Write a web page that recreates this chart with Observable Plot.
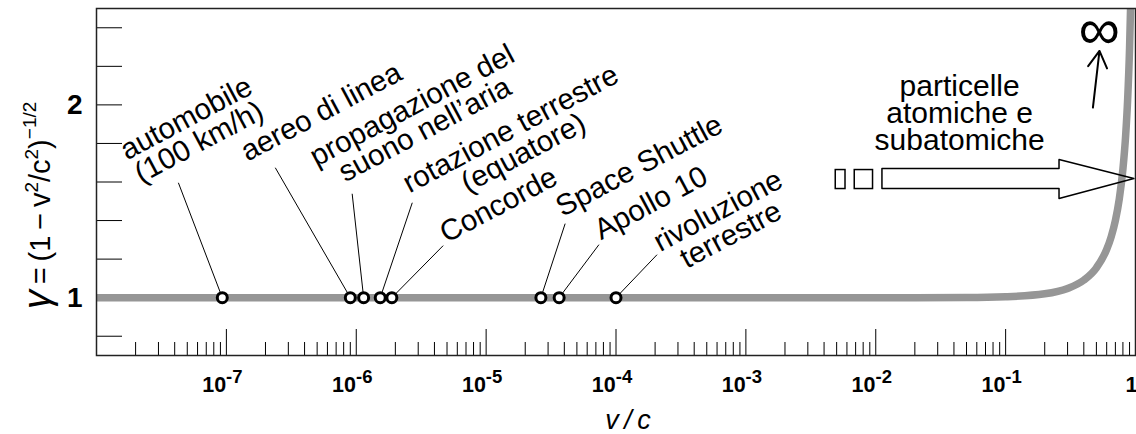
<!DOCTYPE html>
<html><head><meta charset="utf-8">
<script src="https://cdn.jsdelivr.net/npm/d3@7"></script>
<script src="https://cdn.jsdelivr.net/npm/@observablehq/plot@0.6"></script>
<style>body{margin:0;background:#fff} svg{display:block}</style>
</head><body><div id="chart"></div>
<script>
// ---- data ----
const labels = ["automobile\n(100 km/h)", "aereo di linea", "propagazione del\nsuono nell’aria", "rotazione terrestre\n(equatore)", "Concorde", "Space Shuttle", "Apollo 10", "rivoluzione\nterrestre"];
const speeds = [9.3e-8, 9.0e-7, 1.14e-6, 1.53e-6, 1.88e-6, 2.64e-5, 3.65e-5, 1.0e-4];
const gammas = [1, 1, 1, 1, 1, 1, 1, 1];
const leaderEndX = [4.27e-8, 2.38e-7, 9.3e-7, 2.70e-6, 4.67e-6, 4.06e-5, 7.39e-5, 2.07e-4];
const leaderEndY = [1.596, 1.674, 1.539, 1.4925, 1.27, 1.384, 1.275, 1.223];
const labelX = [5.53e-8, 5.42e-7, 3.03e-6, 1.74e-5, 1.256e-5, 1.52e-4, 1.87e-4, 6.89e-4];
const labelY = [1.865, 1.960, 1.931, 1.8095, 1.4775, 1.681, 1.487, 1.385];

const curveBeta = [1e-8, 1e-3, 1e-2, 0.05, 0.1, 0.2, 0.3, 0.4, 0.5, 0.6, 0.65, 0.7, 0.75, 0.8, 0.84, 0.87, 0.9, 0.92, 0.94];
const curveGamma = [1, 1, 1, 1.001, 1.005, 1.02, 1.048, 1.091, 1.155, 1.25, 1.316, 1.4, 1.512, 1.667, 1.843, 2.028, 2.294, 2.551, 2.931];

const majorTicks = [1e-7, 1e-6, 1e-5, 1e-4, 1e-3, 1e-2, 1e-1];
const tickLabelValues = [1e-7, 1e-6, 1e-5, 1e-4, 1e-3, 1e-2, 1e-1, 1];
const tickLabels = ["10^-7", "10^-6", "10^-5", "10^-4", "10^-3", "10^-2", "10^-1", "1"];
const minorMultipliers = [2, 3, 4, 5, 6, 7, 8, 9];
const minorDecades = [1e-8, 1e-7, 1e-6, 1e-5, 1e-4, 1e-3, 1e-2, 1e-1];
const yTicks = [0.8, 1.0, 1.2, 1.4, 1.6, 1.8, 2.0, 2.2, 2.4];
const yLabelTicks = [1, 2];
const yLabelTexts = ["1", "2"];

const particleText = ["particelle\natomiche e\nsubatomiche"];
const particleX = [0.04425];
const particleY = [1.951];
const arrowX = [0.01126, 0.260, 0.260, 0.98];
const arrowTop = [1.667, 1.667, 1.7137, 1.6153];
const arrowBottom = [1.5635, 1.5635, 1.5117, 1.6153];
const tailX1 = [0.00492, 0.00689];
const tailX2 = [0.00585, 0.00953];
const tailY1 = [1.5635, 1.5635];
const tailY2 = [1.662, 1.662];
const infX = [0.528], infY = [2.385];
const upArrow = [{x1: 0.470, y1: 1.986, x2: 0.528, y2: 2.28}];

// ---- tables built from arrays ----
const points = labels.map((name, i) => ({name, v: speeds[i], g: gammas[i], lx: leaderEndX[i], ly: leaderEndY[i], tx: labelX[i], ty: labelY[i]}));
const curve = curveBeta.map((b, i) => ({b, g: curveGamma[i]}));
const minorTicks = minorDecades.flatMap(d => minorMultipliers.map(m => m * d));
const arrowPts = arrowX.map((x, i) => ({x, y1: arrowTop[i], y2: arrowBottom[i]}));
const tail = tailX1.map((x1, i) => ({x1, x2: tailX2[i], y1: tailY1[i], y2: tailY2[i]}));
const fmt = new Map(tickLabelValues.map((v, i) => [v, tickLabels[i]]));
const yfmt = new Map(yLabelTicks.map((v, i) => [v, yLabelTexts[i]]));

const W = 1136, H = 434, ML = 96, MR = 1, MT = 8, MB = 79;
const plotW = W - ML - MR, plotH = H - MT - MB;
const FONT = "'Liberation Sans', Arial, Helvetica, sans-serif";

const plot = Plot.plot({
  width: W, height: H,
  marginLeft: ML, marginRight: MR, marginTop: MT, marginBottom: MB,
  x: {type: "log", domain: [1e-8, 1]},
  y: {domain: [0.7, 2.5]},
  style: {fontFamily: FONT, background: "white", color: "black"},
  marks: [
    Plot.tickX(majorTicks, {x: d => d, insetTop: plotH - 26, stroke: "black", strokeWidth: 1}),
    Plot.tickX(minorTicks, {x: d => d, insetTop: plotH - 13, stroke: "black", strokeWidth: 1}),
    Plot.tickY(yTicks, {y: d => d, insetRight: plotW - 26, stroke: "black", strokeWidth: 1}),
    Plot.axisX(tickLabelValues, {tickSize: 0, tickPadding: 21, dx: -4, tickFormat: d => fmt.get(d), fontSize: 21.5, fontWeight: "bold", label: null}),
    Plot.axisY(yLabelTicks, {tickSize: 0, tickPadding: 14, tickFormat: d => yfmt.get(d), fontSize: 28, fontWeight: "bold", label: null}),
    Plot.areaY(arrowPts, {x: "x", y1: "y1", y2: "y2", fill: "white", curve: "linear"}),
    Plot.rect(tail, {x1: "x1", x2: "x2", y1: "y1", y2: "y2", fill: "white", stroke: "black", strokeWidth: 1.5}),
    Plot.line(curve, {x: "b", y: "g", stroke: "#969696", strokeWidth: 7.5, curve: "monotone-x", clip: true}),
    Plot.areaY(arrowPts, {x: "x", y1: "y1", y2: "y2", fill: "none", stroke: "black", strokeWidth: 1.5, curve: "linear"}),
    Plot.link(points, {x1: "v", y1: "g", x2: "lx", y2: "ly", stroke: "black", strokeWidth: 1}),
    Plot.dot(points, {x: "v", y: "g", r: 5, fill: "white", stroke: "black", strokeWidth: 3}),
    Plot.text(points, {x: "tx", y: "ty", text: "name", rotate: -28, fontSize: 29.5, lineHeight: 0.92, textAnchor: "middle", lineAnchor: "middle", fill: "black"}),
    Plot.text(particleText, {x: (d, i) => particleX[i], y: (d, i) => particleY[i], text: d => d, fontSize: 30, lineHeight: 0.9, textAnchor: "middle", lineAnchor: "middle", fill: "black"}),
    Plot.text(["∞"], {x: (d, i) => infX[i], y: (d, i) => infY[i], text: d => d, fontSize: 58, fontFamily: "'DejaVu Sans', sans-serif", fontWeight: 200, textAnchor: "middle", lineAnchor: "middle", fill: "black"}),
    Plot.arrow(upArrow, {x1: "x1", y1: "y1", x2: "x2", y2: "y2", stroke: "black", strokeWidth: 2, headLength: 16, headAngle: 60}),
    Plot.text(["v\u2009/\u2009c"], {frameAnchor: "bottom", dx: 12, dy: 73, lineAnchor: "bottom", text: d => d, fontSize: 27, fontStyle: "italic", fill: "black"}),
    Plot.frame({stroke: "#222", strokeWidth: 1.5})
  ]
});

// superscripts in tick labels
d3.select(plot).selectAll('g[aria-label="x-axis tick label"] text').each(function () {
  const s = this.textContent;
  if (s.includes("^")) {
    const [b, e] = s.split("^");
    const t = d3.select(this);
    t.text(null);
    t.append("tspan").text(b);
    t.append("tspan").attr("dy", -9).attr("font-size", 18.5).text(e);
  }
});

// y-axis title with superscripts
const yl = d3.select(plot).append("text")
  .attr("transform", "translate(50,309) rotate(-90)")
  .attr("text-anchor", "start")
  .attr("font-family", FONT)
  .attr("font-size", 29)
  .attr("fill", "black");
yl.append("tspan").attr("font-style", "italic").attr("font-size", 38).text("γ");
yl.append("tspan").text("\u2009=\u2009(1\u2009−\u2009v");
yl.append("tspan").attr("font-size", 19).attr("dy", -12).text("2");
yl.append("tspan").attr("dy", 12).text("/c");
yl.append("tspan").attr("font-size", 19).attr("dy", -12).text("2");
yl.append("tspan").attr("dy", 12).text(")");
yl.append("tspan").attr("font-size", 19).attr("dy", -14).text("−1/2");

document.getElementById("chart").appendChild(plot);
</script>
</body></html>
